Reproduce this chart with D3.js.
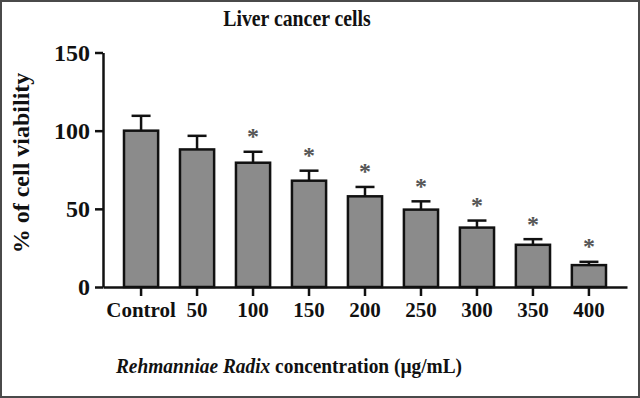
<!DOCTYPE html>
<html>
<head>
<meta charset="utf-8">
<script src="https://cdn.jsdelivr.net/npm/d3@7"></script>
<style>
  body { margin: 0; background: #fff; }
  text { font-family: "Liberation Serif", "Times New Roman", serif; font-weight: bold; fill: #111; }
</style>
</head>
<body>
<svg width="640" height="398"></svg>
<script>
// data
const categories = ['Control', '50', '100', '150', '200', '250', '300', '350', '400'];
const viability = [100, 88, 79.5, 68, 58, 49.5, 38, 27, 14];
const errors = [9.5, 8.7, 7, 6.4, 6, 5.3, 4.5, 3.6, 2.1];
const significant = [false, false, true, true, true, true, true, true, true];
const yTicks = [0, 50, 100, 150];

const svg = d3.select('svg');
const width = +svg.attr('width');
const height = +svg.attr('height');

const data = categories.map((c, i) => ({
  cat: c, value: viability[i], err: errors[i], sig: significant[i]
}));

// frame around the figure
svg.append('rect')
  .attr('x', 1).attr('y', 1)
  .attr('width', width - 2).attr('height', height - 2)
  .attr('fill', 'none')
  .attr('stroke', '#4a4a4a')
  .attr('stroke-width', 2);

const xScale = d3.scaleBand()
  .domain(categories)
  .range([103, 627])
  .paddingInner(0.39)
  .paddingOuter(0.375);

const yScale = d3.scaleLinear()
  .domain([0, 150])
  .range([287, 52.5]);

const g = svg.append('g');

// bars
g.selectAll('rect.bar').data(data)
  .enter().append('rect')
    .attr('class', 'bar')
    .attr('x', d => xScale(d.cat))
    .attr('y', d => yScale(d.value))
    .attr('width', xScale.bandwidth())
    .attr('height', d => yScale(0) - yScale(d.value))
    .attr('fill', '#8b8b8b')
    .attr('stroke', '#111')
    .attr('stroke-width', 2.5);

// error bars (upper only)
const capHalf = 9.5;
const err = g.selectAll('g.err').data(data)
  .enter().append('g')
    .attr('class', 'err')
    .attr('stroke', '#111')
    .attr('stroke-width', 2.5);
err.append('line')
  .attr('x1', d => xScale(d.cat) + xScale.bandwidth() / 2)
  .attr('x2', d => xScale(d.cat) + xScale.bandwidth() / 2)
  .attr('y1', d => yScale(d.value))
  .attr('y2', d => yScale(d.value + d.err));
err.append('line')
  .attr('x1', d => xScale(d.cat) + xScale.bandwidth() / 2 - capHalf)
  .attr('x2', d => xScale(d.cat) + xScale.bandwidth() / 2 + capHalf)
  .attr('y1', d => yScale(d.value + d.err))
  .attr('y2', d => yScale(d.value + d.err));

// significance asterisks
g.selectAll('text.star').data(data.filter(d => d.sig))
  .enter().append('text')
    .attr('class', 'star')
    .attr('x', d => xScale(d.cat) + xScale.bandwidth() / 2)
    .attr('y', d => yScale(d.value + d.err) - 7.5)
    .attr('text-anchor', 'middle')
    .style('font-size', '24px')
    .style('fill', '#555')
    .text('*');

// y axis
const yAxisGroup = g.append('g')
  .attr('transform', 'translate(103,0)')
  .call(d3.axisLeft(yScale).tickValues(yTicks).tickSize(8).tickPadding(5).tickSizeOuter(0));
yAxisGroup.attr('font-family', null).attr('font-size', null);
yAxisGroup.selectAll('path, line').attr('stroke', '#111').attr('stroke-width', 2.5);
yAxisGroup.selectAll('text').style('font-size', '24px').attr('fill', '#111');

// x axis
const xAxisGroup = g.append('g')
  .attr('transform', `translate(0,${yScale(0)})`)
  .call(d3.axisBottom(xScale).tickSize(9).tickPadding(6).tickSizeOuter(0));
xAxisGroup.attr('font-family', null).attr('font-size', null);
xAxisGroup.selectAll('path, line').attr('stroke', '#111').attr('stroke-width', 2.5);
xAxisGroup.selectAll('text').style('font-size', '21px').attr('fill', '#111');

// title (the figure's text is a bit narrow, so squeeze it horizontally)
svg.append('text')
  .attr('transform', 'translate(297,26) scale(0.86,1)')
  .attr('text-anchor', 'middle')
  .style('font-size', '23px')
  .text('Liver cancer cells');

// y axis label
svg.append('text')
  .attr('transform', 'translate(29,163) rotate(-90)')
  .attr('text-anchor', 'middle')
  .style('font-size', '24px')
  .text('% of cell viability');

// x axis label
const xLabel = svg.append('text')
  .attr('transform', 'translate(289,373) scale(0.88,1)')
  .attr('text-anchor', 'middle')
  .style('font-size', '22px');
xLabel.append('tspan').style('font-style', 'italic').text('Rehmanniae Radix');
xLabel.append('tspan').text(' concentration (\u00b5g/mL)');
</script>
</body>
</html>
